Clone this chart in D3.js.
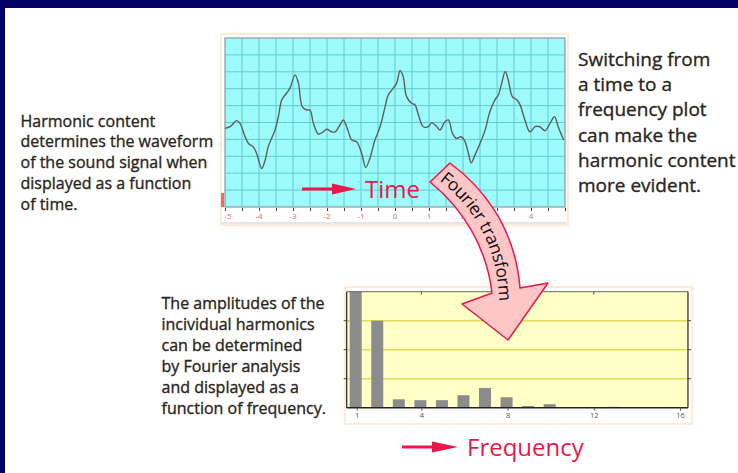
<!DOCTYPE html>
<html>
<head>
<meta charset="utf-8">
<script src="https://cdn.jsdelivr.net/npm/d3@7"></script>
<style>
  html, body { margin: 0; padding: 0; background: #fff; }
  svg { display: block; }
  text { font-family: "Open Sans", "Noto Sans", sans-serif; }
</style>
</head>
<body>
<div id="chart"></div>
<script>
// waveform (time units, grid units)
var waveTime = [-5.00, -4.85, -4.66, -4.56, -4.41, -4.31, -4.17, -4.07, -3.92, -3.82, -3.73, -3.53, -3.43, -3.33,
    -3.19, -3.09, -2.94, -2.84, -2.73, -2.60, -2.50, -2.40, -2.25, -2.11, -2.01, -1.86, -1.76, -1.62, -1.52,
    -1.42, -1.27, -1.13, -0.98, -0.86, -0.74, -0.59, -0.44, -0.29, -0.20, -0.05, 0.05, 0.15, 0.24, 0.34, 0.49,
    0.59, 0.69, 0.83, 0.98, 1.08, 1.23, 1.32, 1.47, 1.57, 1.69, 1.81, 1.94, 2.04, 2.16, 2.24, 2.35, 2.50, 2.65,
    2.79, 2.94, 3.04, 3.14, 3.24, 3.33, 3.45, 3.58, 3.68, 3.82, 3.97, 4.12, 4.26, 4.41, 4.56, 4.69, 4.80, 4.96];
var waveAmp = [-0.35, -0.25, 0.11, -0.05, -0.84, -1.24, -1.44, -1.83, -2.72, -2.23, -1.44, -0.45, 0.34, 1.34,
    1.73, 2.03, 2.82, 2.33, 0.94, 0.74, 0.74, -0.05, -0.68, -0.55, -0.40, -0.55, -0.55, -0.15, 0.15,
    -0.25, -1.04, -1.14, -1.83, -2.66, -2.13, -1.04, -0.25, 0.94, 1.63, 2.03, 2.33, 3.08, 2.72, 1.53, 1.14,
    1.04, 0.45, -0.25, -0.25, -0.01, -0.25, -0.45, 0.05, 0.15, -0.64, -0.94, -0.84, -1.04, -1.83, -2.39, -1.93, -1.24, -0.45,
    0.64, 1.34, 1.63, 2.33, 3.02, 2.52, 1.53, 1.34, 1.04, 0.15, -0.55, -0.25, -0.25, -0.49, -0.05, 0.34, -0.25, -1.04];
var timeTicks = [-5, -4, -3, -2, -1, 0, 1, 2, 3, 4];

// harmonic amplitudes (grid units)
var harmonics = [1, 2, 3, 4, 5, 6, 7, 8, 9, 10, 11, 12, 13, 14, 15, 16];
var amplitudes = [4.0, 3.0, 0.29, 0.26, 0.26, 0.43, 0.68, 0.36, 0.06, 0.12, 0, 0, 0.03, 0, 0, 0];
var freqTicks = [1, 4, 8, 12, 16];

var leftNote = ["Harmonic content", "determines the waveform", "of the sound signal when",
    "displayed as a function", "of time."];
var rightNote = ["Switching from", "a time to a", "frequency plot", "can make the",
    "harmonic content", "more evident."];
var bottomNote = ["The amplitudes of the", "incividual harmonics", "can be determined",
    "by Fourier analysis", "and displayed as a", "function of frequency."];

var red = "#e8174a";
var ink = "#2a2520";

var svg = d3.select("#chart").append("svg")
    .attr("width", 738)
    .attr("height", 473);

// navy frame
svg.append("rect").attr("x", 0).attr("y", 0).attr("width", 738).attr("height", 8).attr("fill", "#000066");
svg.append("rect").attr("x", 0).attr("y", 0).attr("width", 5).attr("height", 473).attr("fill", "#000066");

// ---------- time plot ----------
var xT = d3.scaleLinear().domain([-5, 5]).range([225, 565]);
var yT = d3.scaleLinear().domain([-5, 5]).range([207, 38]);

svg.append("rect")
    .attr("x", 221).attr("y", 34).attr("width", 347).attr("height", 191)
    .attr("fill", "#fff").attr("stroke", "#fbe6cc").attr("stroke-width", 1.5);

svg.append("rect")
    .attr("x", xT(-5)).attr("y", yT(5))
    .attr("width", xT(5) - xT(-5)).attr("height", yT(-5) - yT(5))
    .attr("fill", "#9dfbfb");

var tGrid = svg.append("g").attr("stroke", "#63cccc").attr("stroke-width", 1);
tGrid.selectAll(".vg")
    .data(d3.range(-4.5, 5, 0.5))
    .enter().append("line")
    .attr("x1", d => xT(d)).attr("x2", d => xT(d))
    .attr("y1", yT(5)).attr("y2", yT(-5));
tGrid.selectAll(".hg")
    .data(d3.range(-4, 5, 1))
    .enter().append("line")
    .attr("x1", xT(-5)).attr("x2", xT(5))
    .attr("y1", d => yT(d)).attr("y2", d => yT(d));

svg.append("rect")
    .attr("x", xT(-5)).attr("y", yT(5))
    .attr("width", xT(5) - xT(-5)).attr("height", yT(-5) - yT(5))
    .attr("fill", "none").attr("stroke", "#8a9a9a").attr("stroke-width", 1.2);

// little red marker left of the plot
svg.append("rect").attr("x", 221).attr("y", 193).attr("width", 3).attr("height", 14).attr("fill", "#f26a6a");

// the waveform
var wave = d3.line()
    .x(d => xT(d[0]))
    .y(d => yT(d[1]))
    .curve(d3.curveCatmullRom.alpha(0.5));

svg.append("path")
    .datum(d3.zip(waveTime, waveAmp))
    .attr("d", wave)
    .attr("fill", "none")
    .attr("stroke", "#5e5e5e")
    .attr("stroke-width", 1.4);

// time axis
var tAxis = svg.append("g")
    .attr("transform", "translate(0," + (yT(-5) + 1) + ")")
    .call(d3.axisBottom(xT).tickValues(d3.range(-5, 5.01, 0.5)).tickSize(3).tickFormat(""));
tAxis.select(".domain").remove();
tAxis.selectAll(".tick line").attr("stroke", "#444");

svg.selectAll(".tlab")
    .data(timeTicks)
    .enter().append("text")
    .attr("x", d => xT(d) + (d == -5 ? 3 : 0))
    .attr("y", 219)
    .attr("text-anchor", "middle")
    .attr("font-size", 8)
    .attr("fill", d => d < 0 ? "#f06060" : "#888")
    .text(d => d);

svg.append("line").attr("x1", 221).attr("x2", 567).attr("y1", 223).attr("y2", 223)
    .attr("stroke", "#ccc").attr("stroke-width", 1);

// "Time" label
svg.append("line").attr("x1", 302).attr("x2", 334).attr("y1", 189).attr("y2", 189)
    .attr("stroke", red).attr("stroke-width", 3);
svg.append("path").attr("d", "M332,183.5 L356,189 L332,194.5 Z").attr("fill", red);
svg.append("text").attr("x", 365).attr("y", 197.5)
    .attr("font-size", 24).attr("fill", red).text("Time");

// ---------- frequency plot ----------
var xF = d3.scaleLinear().domain([1, 16]).range([356.7, 680]);
var yF = d3.scaleLinear().domain([0, 4]).range([407.7, 291.7]);
var fx0 = xF(0.535), fx1 = xF(16.37);

svg.append("rect")
    .attr("x", 345).attr("y", 287).attr("width", 347).attr("height", 137)
    .attr("fill", "#fff").attr("stroke", "#fbe6cc").attr("stroke-width", 1.5);

svg.append("rect")
    .attr("x", fx0).attr("y", yF(4))
    .attr("width", fx1 - fx0).attr("height", yF(0) - yF(4))
    .attr("fill", "#ffffc6");

svg.selectAll(".fg")
    .data([1, 2, 3])
    .enter().append("line")
    .attr("x1", fx0).attr("x2", fx1)
    .attr("y1", d => yF(d)).attr("y2", d => yF(d))
    .attr("stroke", "#dede5a").attr("stroke-width", 1.5);

// bars
svg.selectAll(".bar")
    .data(harmonics)
    .enter().append("rect")
    .attr("class", "bar")
    .attr("x", (d, i) => xF(d) - 7)
    .attr("width", 12)
    .attr("y", (d, i) => yF(amplitudes[i]))
    .attr("height", (d, i) => yF(0) - yF(amplitudes[i]))
    .attr("fill", "#8c8c8c");

// frame and ticks
svg.append("line").attr("x1", fx0).attr("x2", fx1).attr("y1", yF(4)).attr("y2", yF(4))
    .attr("stroke", "#666").attr("stroke-width", 1);
svg.append("line").attr("x1", fx0).attr("x2", fx0).attr("y1", yF(4)).attr("y2", yF(0))
    .attr("stroke", "#333").attr("stroke-width", 1.3);
svg.append("line").attr("x1", fx1).attr("x2", fx1).attr("y1", yF(4)).attr("y2", yF(0))
    .attr("stroke", "#333").attr("stroke-width", 1.3);

var fAxis = svg.append("g")
    .attr("transform", "translate(0," + yF(0) + ")")
    .call(d3.axisBottom(xF).tickValues(freqTicks).tickSize(3).tickPadding(2));
fAxis.select(".domain").attr("d", "M" + fx0 + ",0H" + fx1).attr("stroke", "#222").attr("stroke-width", 1.5);
fAxis.selectAll(".tick line").attr("stroke", "#555");
fAxis.selectAll(".tick text")
    .attr("font-family", "'Liberation Sans Narrow', 'DejaVu Sans Condensed', sans-serif")
    .attr("font-size", 7.5).attr("fill", "#555");

svg.selectAll(".ttick")
    .data([4, 8, 12])
    .enter().append("line")
    .attr("x1", d => xF(d)).attr("x2", d => xF(d))
    .attr("y1", yF(4)).attr("y2", yF(4) + 3)
    .attr("stroke", "#555");
svg.selectAll(".sideTick")
    .data([1, 2, 3])
    .enter().append("g")
    .each(function(d) {
        d3.select(this).append("line").attr("x1", fx0 - 3).attr("x2", fx0).attr("y1", yF(d)).attr("y2", yF(d)).attr("stroke", "#444");
        d3.select(this).append("line").attr("x1", fx1).attr("x2", fx1 + 3).attr("y1", yF(d)).attr("y2", yF(d)).attr("stroke", "#444");
    });

// "Frequency" label
svg.append("line").attr("x1", 402).attr("x2", 434).attr("y1", 447).attr("y2", 447)
    .attr("stroke", red).attr("stroke-width", 3);
svg.append("path").attr("d", "M432,441.5 L458,447 L432,452.5 Z").attr("fill", red);
svg.append("text").attr("x", 467).attr("y", 456)
    .attr("font-size", 24).attr("fill", red).text("Frequency");

// ---------- Fourier transform arrow ----------
svg.append("path")
    .attr("d", "M430,182 L450,163 C480,185 515,225 520,288 L548,283 L508,340 L462,304 L492,293 C487,250 465,210 430,182 Z")
    .attr("fill", "#ffc6c8")
    .attr("stroke", red)
    .attr("stroke-width", 1.5)
    .attr("stroke-linejoin", "round");

svg.append("path")
    .attr("id", "ftPath")
    .attr("d", "M438,171 C468,192 502,230 506,295 L508,340")
    .attr("fill", "none");

svg.append("text")
    .attr("font-size", 17.5)
    .attr("fill", "#111")
    .attr("dominant-baseline", "central")
  .append("textPath")
    .attr("href", "#ftPath")
    .attr("startOffset", 7)
    .text("Fourier transform");

// ---------- notes ----------
function note(lines, x, y0, step, size) {
    svg.append("g").selectAll("text")
        .data(lines)
        .enter().append("text")
        .attr("x", x)
        .attr("y", (d, i) => y0 + i * step)
        .attr("font-size", size)
        .attr("fill", ink)
        .attr("stroke", ink)
        .attr("stroke-width", 0.35)
        .text(d => d);
}
note(leftNote, 20.5, 126.5, 20.8, 16);
note(rightNote, 578, 66, 25.2, 19);
note(bottomNote, 161.5, 309, 20.9, 16);
</script>
</body>
</html>
